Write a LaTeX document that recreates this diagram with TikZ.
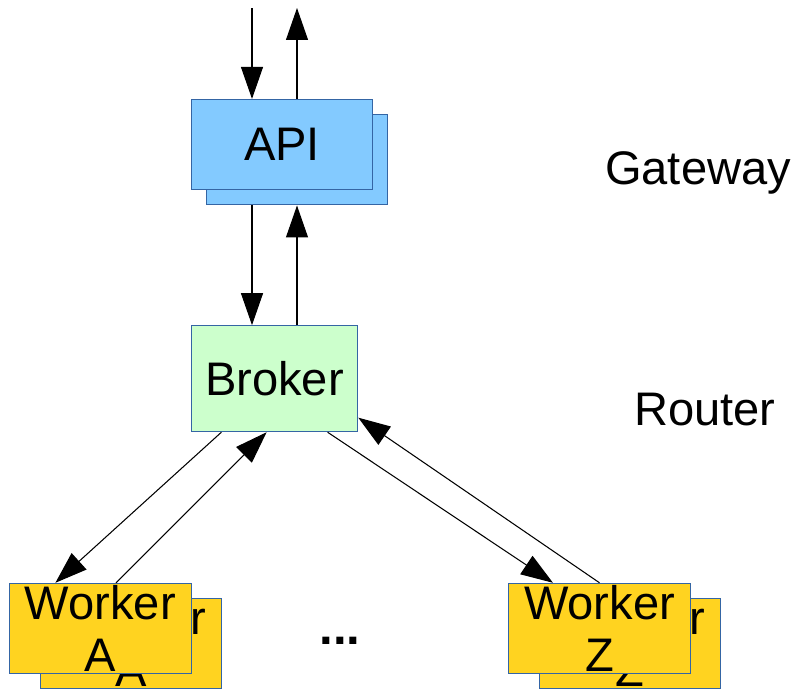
\documentclass[tikz,border=0pt]{standalone}
\usepackage{fontspec}
\setmainfont{Liberation Sans}
\usetikzlibrary{arrows.meta,calc,positioning}

\definecolor{apiblue}{HTML}{83CAFF}
\definecolor{brokergreen}{HTML}{CCFFCC}
\definecolor{workergold}{HTML}{FFD320}
\definecolor{edgeblue}{HTML}{3465A4}

\tikzset{
  lbl/.style={font=\fontsize{26.8}{29.5}\selectfont, inner sep=0pt},
  box/.style={lbl, draw=edgeblue, line width=0.6pt, align=center},
  apibox/.style={box, fill=apiblue, minimum width=3.63cm, minimum height=1.81cm},
  brokerbox/.style={box, fill=brokergreen, minimum width=3.33cm, minimum height=2.12cm},
  workerbox/.style={box, fill=workergold, minimum width=3.63cm, minimum height=1.8cm},
  flow/.style={-{Triangle[length=0.64cm,width=0.44cm]}, line width=0.6pt}
}

\begin{document}
\begin{tikzpicture}[x=0.02cm, y=-0.02cm]
\useasboundingbox (0,0) rectangle (798,690);

\node[apibox] (apiback) at (297,159.7) {};
\node[apibox] (api) at (282,144.7) {API};
\node[brokerbox] (broker) at (274.5,378.7) {Broker};
\node[workerbox] (waback) at (131,643.7) {Worker\\A};
\node[workerbox] (wa) at (100.3,628.3) {Worker\\A};
\node[workerbox] (wzback) at (630,643.7) {Worker\\Z};
\node[workerbox] (wz) at (599.5,628.3) {Worker\\Z};
\node[lbl, anchor=base] (gateway) at (698,184) {Gateway};
\node[lbl, anchor=base] (router) at (705,425) {Router};
\node[lbl, anchor=base, font=\fontsize{28}{30}\selectfont] (dots) at (340,644) {\textbf{...}};

\coordinate (in) at (252,8);
\coordinate (out) at (297,8);

\draw[flow] (in) -- (in |- api.north);
\draw[flow] (out |- api.north) -- (out);
\draw[flow] (in |- apiback.south) -- (in |- broker.north);
\draw[flow] (out |- broker.north) -- (out |- apiback.south);
\draw[flow] ($(broker.south west)!0.183!(broker.south east)$) -- ($(wa.north west)!0.254!(wa.north east)$);
\draw[flow] ($(wa.north west)!0.586!(wa.north east)$) -- ($(broker.south west)!0.453!(broker.south east)$);
\draw[flow] ($(broker.south west)!0.817!(broker.south east)$) -- ($(wz.north west)!0.245!(wz.north east)$);
\draw[flow] (wz.north) -- ($(broker.north east)!0.864!(broker.south east)$);
\end{tikzpicture}
\end{document}
